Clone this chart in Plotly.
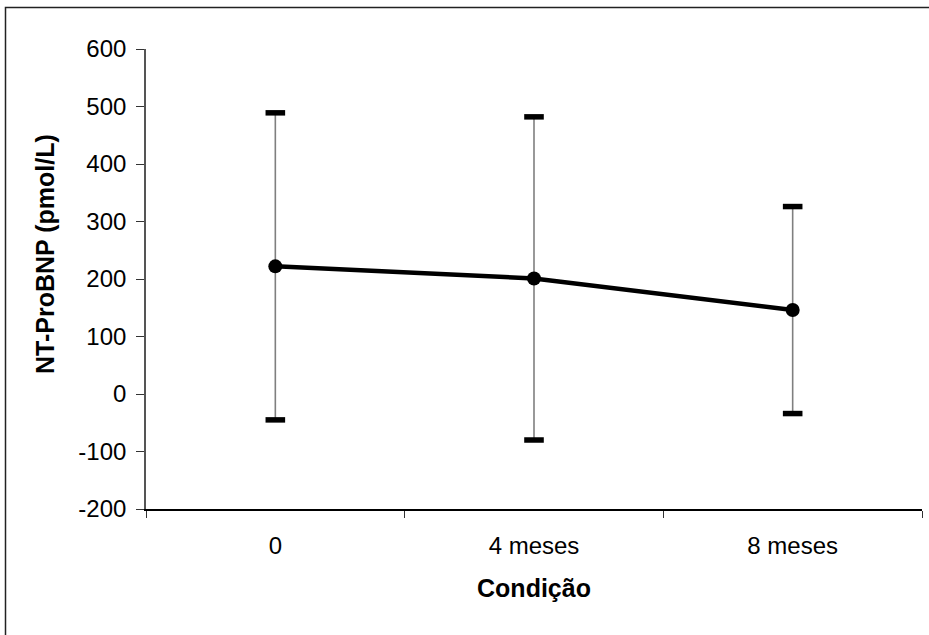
import plotly.graph_objects as go

# NT-ProBNP over follow-up: mean and standard deviation per visit
condicao = ["0", "4 meses", "8 meses"]
media = [222, 201, 146]
desvio = [267, 281, 180]

y_ticks = [-200, -100, 0, 100, 200, 300, 400, 500, 600]
y_tick_text = ["-200", "-100", "0", "100", "200", "300", "400", "500", "600"]

W, H = 929, 635
ML, MR, MT, MB = 146, 7, 49, 126
pw, ph = W - ML - MR, H - MT - MB

font_family = "Liberation Sans, Arial, sans-serif"

fig = go.Figure()

# thin grey error stems
fig.add_trace(go.Scatter(
    x=condicao, y=media, mode="lines",
    line=dict(width=0, color="rgba(0,0,0,0)"),
    error_y=dict(type="data", array=desvio, symmetric=True,
                 thickness=1.6, width=0, color="#7f7f7f"),
    hoverinfo="skip", showlegend=False,
))

# thick black caps at mean +/- sd
caps_x = condicao + condicao
caps_y = [m + s for m, s in zip(media, desvio)] + [m - s for m, s in zip(media, desvio)]
fig.add_trace(go.Scatter(
    x=caps_x, y=caps_y, mode="markers",
    marker=dict(symbol="line-ew", size=14, line=dict(width=5.5, color="black")),
    hoverinfo="skip", showlegend=False,
))

# mean line with round markers
fig.add_trace(go.Scatter(
    x=condicao, y=media, mode="lines+markers",
    line=dict(width=4.5, color="black"),
    marker=dict(size=14, color="black"),
    showlegend=False,
))

# outer frame of the chart area
def px_to_paper_x(px):
    return (px - ML) / pw

def px_to_paper_y(py):
    return (H - MB - py) / ph

fig.add_shape(type="rect", xref="paper", yref="paper",
              x0=px_to_paper_x(5.5), x1=px_to_paper_x(940),
              y0=px_to_paper_y(650), y1=px_to_paper_y(7.5),
              line=dict(color="#222222", width=1.5), fillcolor="rgba(0,0,0,0)",
              layer="below")

# vertical axis title
fig.add_annotation(
    text="<b>NT-ProBNP (pmol/L)</b>", textangle=-90,
    xref="paper", yref="paper",
    x=px_to_paper_x(45), y=px_to_paper_y(254),
    xanchor="center", yanchor="middle", showarrow=False,
    font=dict(size=25, family=font_family, color="black"),
)

fig.update_layout(
    width=W, height=H,
    margin=dict(l=ML, r=MR, t=MT, b=MB, pad=0),
    paper_bgcolor="white", plot_bgcolor="white",
    font=dict(family=font_family, size=24, color="black"),
    xaxis=dict(
        type="category", range=[-0.5, 2.5],
        tickson="boundaries", ticks="outside", ticklen=7, tickwidth=1.3,
        tickcolor="#333333",
        showline=True, linecolor="black", linewidth=1.6,
        showgrid=False, zeroline=False,
        ticklabelstandoff=14,
        title=dict(text="<b>Condição</b>", standoff=22,
                   font=dict(size=25, family=font_family)),
    ),
    yaxis=dict(
        range=[-200, 600], tickvals=y_ticks, ticktext=y_tick_text,
        ticks="outside", ticklen=8, tickwidth=1.3, tickcolor="#333333",
        showline=True, linecolor="#555555", linewidth=1.6,
        showgrid=False, zeroline=False,
        ticklabelstandoff=5,
    ),
)

fig.write_html("out.html")
